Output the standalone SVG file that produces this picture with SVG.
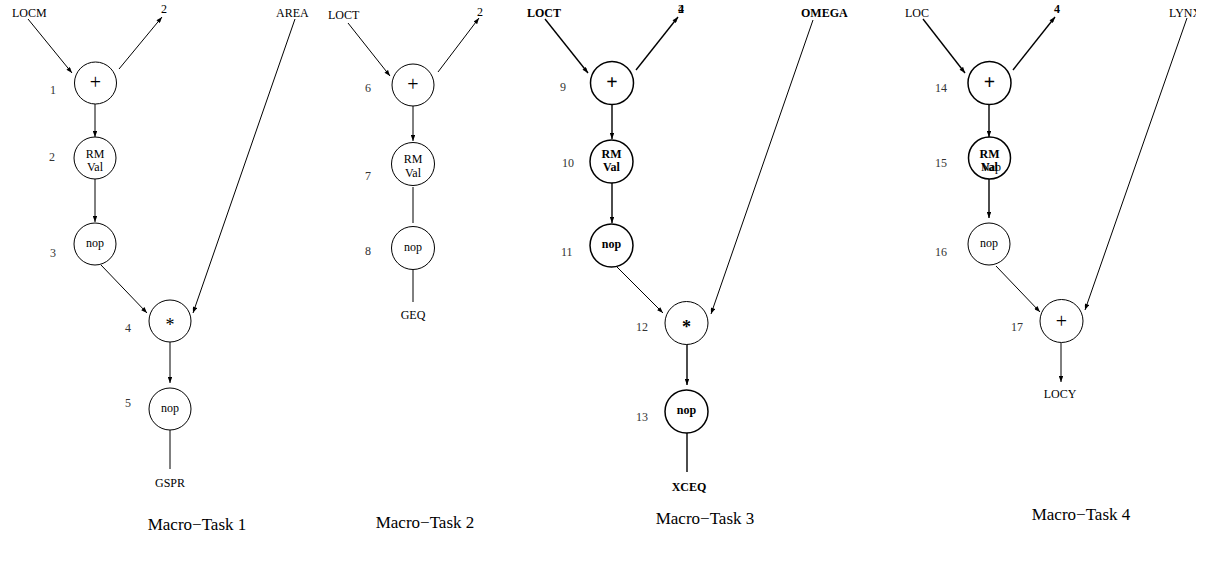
<svg xmlns="http://www.w3.org/2000/svg" width="1213" height="563" viewBox="0 0 1213 563">
  <style>
    text { font-family: "Liberation Serif", "Times New Roman", serif; fill: #000; }
    .io { font-size: 12px; }
    .num { font-size: 12px; fill: #333; }
    .op { font-size: 12px; text-anchor: middle; }
    .sym { font-size: 20px; text-anchor: middle; }
    .star { font-size: 18px; text-anchor: middle; }
    .b { font-weight: bold; }
    .cap { font-size: 17px; text-anchor: middle; }
    circle { fill: #fff; stroke: #000; stroke-width: 1; }
    circle.thick { stroke-width: 1.5; }
    .edges line { stroke: #000; stroke-width: 1; fill: none; }
    .edges line.thick { stroke-width: 1.4; }
    .arr { marker-end: url(#head); }
  </style>
  <defs>
    <marker id="head" viewBox="0 0 8 6" refX="8" refY="3" markerWidth="7" markerHeight="4.5" markerUnits="userSpaceOnUse" orient="auto">
      <path d="M0,0 L8,3 L0,6 z" fill="#000"/>
    </marker>
    <clipPath id="edgeClip">
      <rect x="0" y="0" width="1196" height="563"/>
    </clipPath>
  </defs>
  <rect width="1213" height="563" fill="#fff"/>

  <!-- connectors -->
  <g class="edges" id="connectors">
    <!-- Macro-Task 1 -->
    <line class="arr" x1="28" y1="19" x2="72" y2="73"/>
    <line class="arr" x1="119" y1="69" x2="162" y2="17"/>
    <line class="arr" x1="95" y1="104" x2="95" y2="137"/>
    <line class="arr" x1="95" y1="179" x2="95" y2="222"/>
    <line class="arr" x1="101" y1="265" x2="147" y2="313"/>
    <line class="arr" x1="295" y1="19" x2="193" y2="313"/>
    <line class="arr" x1="170" y1="342" x2="170" y2="383"/>
    <line x1="170" y1="430" x2="170" y2="469"/>
    <!-- Macro-Task 2 -->
    <line class="arr" x1="348" y1="23" x2="390" y2="76"/>
    <line class="arr" x1="438" y1="72" x2="479" y2="18"/>
    <line class="arr" x1="413" y1="106" x2="413" y2="141"/>
    <line x1="413" y1="187" x2="413" y2="223"/>
    <line x1="413" y1="270" x2="413" y2="302"/>
    <!-- Macro-Task 3 -->
    <line class="arr thick" x1="545" y1="19" x2="588" y2="73"/>
    <line class="arr thick" x1="636" y1="70" x2="678" y2="17"/>
    <line class="arr thick" x1="612" y1="104" x2="612" y2="139"/>
    <line class="arr thick" x1="612" y1="183" x2="612" y2="223"/>
    <line class="arr" x1="617" y1="267" x2="663" y2="313"/>
    <line class="arr" x1="813" y1="20" x2="711" y2="314"/>
    <line class="arr thick" x1="687" y1="344" x2="687" y2="385"/>
    <line class="thick" x1="687" y1="433" x2="687" y2="472"/>
    <!-- Macro-Task 4 -->
    <line class="arr thick" x1="923" y1="19" x2="965" y2="73"/>
    <line class="arr thick" x1="1013" y1="70" x2="1055" y2="17"/>
    <line class="arr thick" x1="989" y1="104" x2="989" y2="137"/>
    <line class="arr thick" x1="989" y1="179" x2="989" y2="218"/>
    <line class="arr" x1="996" y1="266" x2="1040" y2="312"/>
    <line class="arr" x1="1187" y1="18" x2="1085" y2="310"/>
    <line class="arr" x1="1061" y1="343" x2="1061" y2="382"/>
  </g>

  <!-- Macro-Task 1 -->
  <g id="mt1-inputs">
    <text class="io" x="12" y="17">LOCM</text>
    <text class="io" x="161" y="13">2</text>
    <text class="io" x="276" y="17">AREA</text>
    <text class="io" x="170" y="487" text-anchor="middle">GSPR</text>
  </g>
  <g id="n1"><circle cx="95.5" cy="83" r="21"/><text class="sym" x="95.5" y="88.5">+</text><text class="num" x="50" y="94">1</text></g>
  <g id="n2"><circle cx="95" cy="158" r="21"/><text class="op" x="95" y="158">RM</text><text class="op" x="95" y="171">Val</text><text class="num" x="49" y="161">2</text></g>
  <g id="n3"><circle cx="95" cy="244" r="21"/><text class="op" x="95" y="247">nop</text><text class="num" x="50" y="257">3</text></g>
  <g id="n4"><circle cx="170" cy="321" r="21"/><text class="star" x="170" y="331">*</text><text class="num" x="125" y="332">4</text></g>
  <g id="n5"><circle cx="170" cy="409" r="21"/><text class="op" x="170" y="412">nop</text><text class="num" x="125" y="407">5</text></g>

  <!-- Macro-Task 2 -->
  <g id="mt2-inputs">
    <text class="io" x="328" y="19">LOCT</text>
    <text class="io" x="477" y="16">2</text>
    <text class="io" x="413" y="319" text-anchor="middle">GEQ</text>
  </g>
  <g id="n6"><circle cx="413" cy="85" r="21"/><text class="sym" x="413" y="90.5">+</text><text class="num" x="365" y="92">6</text></g>
  <g id="n7"><circle cx="413" cy="164" r="21.5"/><text class="op" x="413" y="163">RM</text><text class="op" x="413" y="177">Val</text><text class="num" x="365" y="180">7</text></g>
  <g id="n8"><circle cx="413" cy="248" r="21.5"/><text class="op" x="413" y="251">nop</text><text class="num" x="365" y="255">8</text></g>

  <!-- Macro-Task 3 -->
  <g id="mt3-inputs">
    <text class="io b" x="527" y="17">LOCT</text>
    <text class="io" x="678" y="13">2</text>
    <text class="io b" x="678" y="13">4</text>
    <text class="io b" x="801" y="17">OMEGA</text>
    <text class="io b" x="689" y="491" text-anchor="middle">XCEQ</text>
  </g>
  <g id="n9"><circle class="thick" cx="612" cy="83" r="21.5"/><text class="sym b" x="612" y="88.5">+</text><text class="num" x="560" y="91">9</text></g>
  <g id="n10"><circle class="thick" cx="611.5" cy="161.5" r="21.5"/><text class="op b" x="611.5" y="158">RM</text><text class="op b" x="611.5" y="171">Val</text><text class="num" x="562" y="167">10</text></g>
  <g id="n11"><circle class="thick" cx="611.5" cy="245.5" r="21.5"/><text class="op b" x="611.5" y="248">nop</text><text class="num" x="561" y="256">11</text></g>
  <g id="n12"><circle cx="686.5" cy="323" r="21.5"/><text class="star b" x="686.5" y="333">*</text><text class="num" x="636" y="331">12</text></g>
  <g id="n13"><circle class="thick" cx="686.5" cy="411.5" r="21.5"/><text class="op b" x="686.5" y="414">nop</text><text class="num" x="636" y="421">13</text></g>

  <!-- Macro-Task 4 -->
  <g id="mt4-inputs">
    <text class="io" x="905" y="17">LOC</text>
    <text class="io b" x="1054" y="13">4</text>
    <text class="io" x="1169" y="17" clip-path="url(#edgeClip)">LYNX</text>
    <text class="io" x="1060" y="398" text-anchor="middle">LOCY</text>
  </g>
  <g id="n14"><circle class="thick" cx="989.5" cy="83" r="21.5"/><text class="sym b" x="989.5" y="88.5">+</text><text class="num" x="935" y="92">14</text></g>
  <g id="n15"><circle class="thick" cx="989.5" cy="158" r="21"/><text class="op b" x="989.5" y="158">RM</text><text class="io" x="981" y="171">Nap</text><text class="op b" x="989.5" y="171">Val</text><text class="num" x="935" y="167">15</text></g>
  <g id="n16"><circle cx="989" cy="244" r="21"/><text class="op" x="989" y="247">nop</text><text class="num" x="935" y="256">16</text></g>
  <g id="n17"><circle cx="1061.5" cy="321" r="21.5"/><text class="sym" x="1061.5" y="327.5">+</text><text class="num" x="1011" y="331">17</text></g>

  <!-- captions -->
  <g id="captions">
    <text class="cap" x="197" y="530">Macro−Task 1</text>
    <text class="cap" x="425" y="528">Macro−Task 2</text>
    <text class="cap" x="705" y="524">Macro−Task 3</text>
    <text class="cap" x="1081" y="520">Macro−Task 4</text>
  </g>
</svg>
